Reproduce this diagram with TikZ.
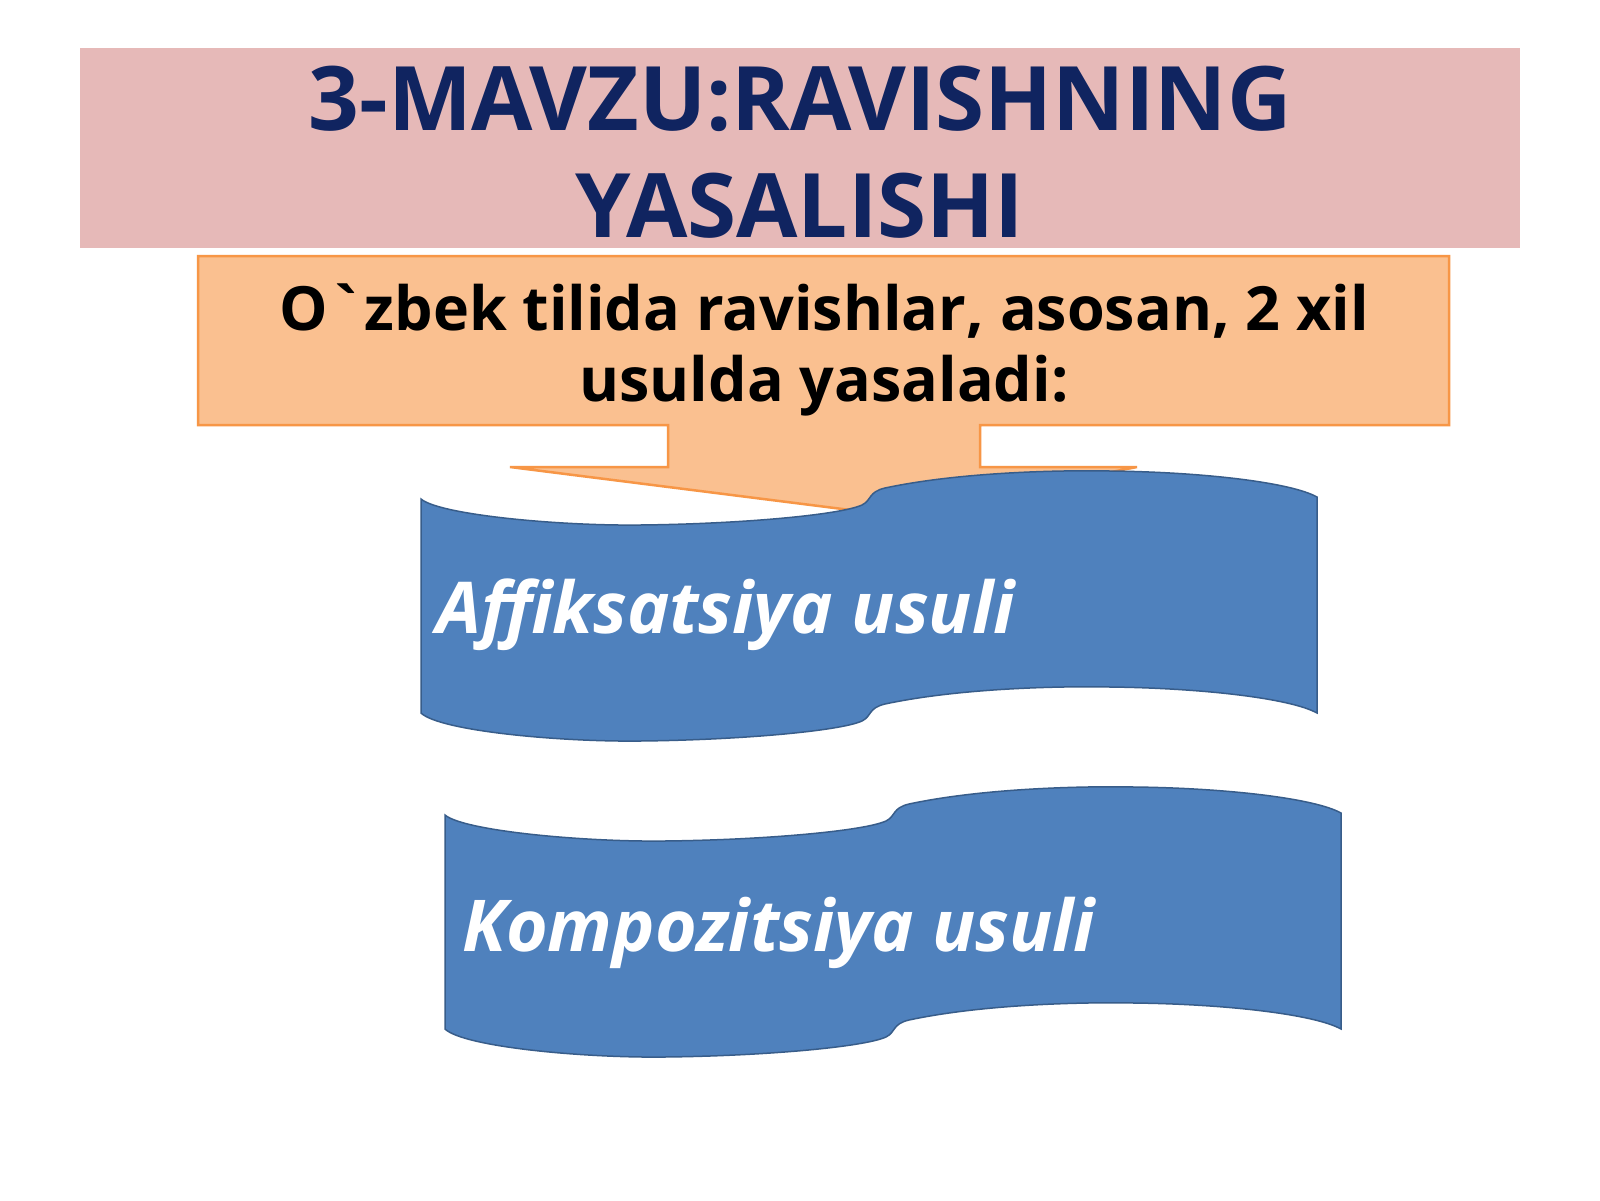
\documentclass[tikz,border=0pt]{standalone}
\usepackage{fontspec}
\newfontfamily\osans{Open Sans}
\definecolor{titlepink}{HTML}{E6B9B8}
\definecolor{titlenavy}{RGB}{16,36,96}
\definecolor{calloutfill}{HTML}{FAC090}
\definecolor{calloutline}{HTML}{F79646}
\definecolor{bannerfill}{HTML}{4F81BD}
\definecolor{bannerline}{HTML}{385D8A}
\tikzset{
  titletext/.style={font=\osans\bfseries\fontsize{89}{107}\selectfont, text=titlenavy, align=center, inner sep=0pt},
  introtext/.style={font=\osans\bfseries\fontsize{61}{71}\selectfont, text=black, align=center, inner sep=0pt},
  bannertext/.style={font=\osans\bfseries\itshape\fontsize{71.5}{84}\selectfont, text=white, inner sep=0pt, anchor=base west},
  calloutshape/.style={fill=calloutfill, draw=calloutline, line width=2.5pt, line join=miter},
  bannershape/.style={fill=bannerfill, draw=bannerline, line width=1.5pt},
}
\newcommand{\wavebanner}{%
  (421,499) .. controls (440,515) and (560,526) .. (640,525)
  .. controls (740,524) and (840,515) .. (862,505)
  .. controls (872,500) and (868,492) .. (885,488)
  .. controls (960,472) and (1060,470) .. (1110,471)
  .. controls (1200,472) and (1290,482) .. (1317,497)
  -- (1317,713)
  .. controls (1290,698) and (1200,688) .. (1110,687)
  .. controls (1060,686) and (960,688) .. (885,704)
  .. controls (868,708) and (872,716) .. (862,721)
  .. controls (840,731) and (740,740) .. (640,741)
  .. controls (560,742) and (440,731) .. (421,713) -- cycle}
\begin{document}
\begin{tikzpicture}[x=1pt,y=-1pt]
\useasboundingbox (0,0) rectangle (1600,1200);
\fill[white] (0,0) rectangle (1600,1200);
% title bar
\fill[titlepink] (80,48) rectangle (1520,248);
\node[titletext, anchor=base] (title) at (800,237) {3-MAVZU:RAVISHNING\\YASALISHI};
% callout
\draw[calloutshape] (198,256) -- (1449,256) -- (1449,425) -- (980,425) -- (980,467)
  -- (1137,467) -- (890,515) -- (510,467) -- (668,467) -- (668,425) -- (198,425) -- cycle;
\node[introtext, anchor=base] (intro) at (824,401) {O`zbek tilida ravishlar, asosan, 2 xil\\usulda yasaladi:};
% banners
\draw[bannershape] \wavebanner;
\node[bannertext] (affiks) at (436,633) {Affiksatsiya usuli};
\begin{scope}[shift={(24,316)}]
\draw[bannershape] \wavebanner;
\end{scope}
\node[bannertext] (kompoz) at (462,951) {Kompozitsiya usuli};
\end{tikzpicture}
\end{document}
